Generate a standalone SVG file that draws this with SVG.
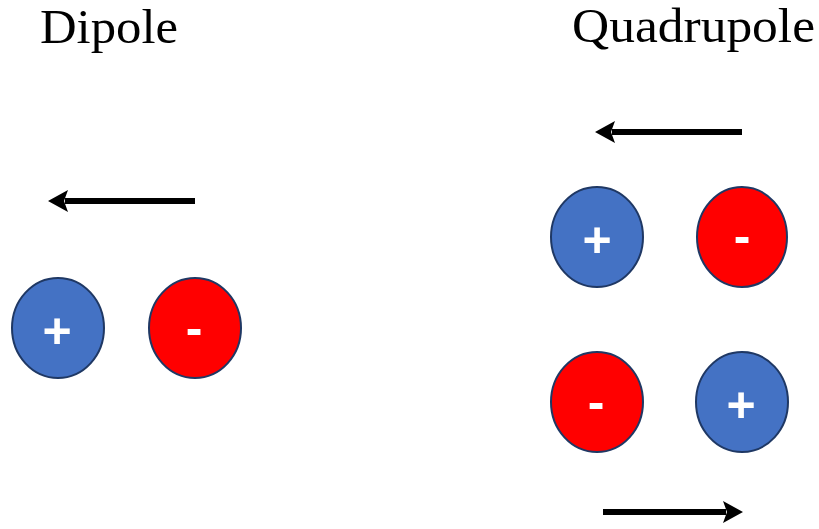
<svg xmlns="http://www.w3.org/2000/svg" width="819" height="529" viewBox="0 0 819 529">
<style>
.title{font-family:"Liberation Serif","Times New Roman",serif;font-size:48px;fill:#000}
.pos{fill:#4472C4;stroke:#1F3864;stroke-width:2}
.neg{fill:#FF0000;stroke:#1F3864;stroke-width:2}
.sign{font-family:"Liberation Sans",Arial,sans-serif;font-weight:bold;font-size:50px;fill:#fff;text-anchor:middle}
.arrow{stroke:#000;stroke-width:6;fill:none}
</style>
<defs>
<marker id="ah" markerWidth="20" markerHeight="22" refX="3" refY="11" orient="auto" markerUnits="userSpaceOnUse">
<path d="M0,0 L20,11 L0,22 L4,11 Z" fill="#000"/>
</marker>
</defs>
<rect width="819" height="529" fill="#fff"/>
<text id="dipole-title" class="title" x="40" y="43" textLength="138" lengthAdjust="spacingAndGlyphs">Dipole</text>
<text id="quadrupole-title" class="title" x="572" y="42" textLength="243" lengthAdjust="spacingAndGlyphs">Quadrupole</text>
<g id="connectors">
<line class="arrow" x1="195" y1="201" x2="65" y2="201" marker-end="url(#ah)"/>
<line class="arrow" x1="742" y1="132" x2="612" y2="132" marker-end="url(#ah)"/>
<line class="arrow" x1="603" y1="512" x2="726" y2="512" marker-end="url(#ah)"/>
</g>
<g id="dipole-pos"><ellipse class="pos" cx="58" cy="328" rx="46" ry="50"/><text class="sign" x="57" y="348">+</text></g>
<g id="dipole-neg"><ellipse class="neg" cx="195" cy="328" rx="46" ry="50"/><text class="sign" x="194" y="345">-</text></g>
<g id="quad-tl"><ellipse class="pos" cx="597" cy="237" rx="46" ry="50"/><text class="sign" x="597" y="257">+</text></g>
<g id="quad-tr"><ellipse class="neg" cx="742" cy="237" rx="45" ry="50"/><text class="sign" x="742" y="253">-</text></g>
<g id="quad-bl"><ellipse class="neg" cx="597" cy="402" rx="46" ry="50"/><text class="sign" x="596" y="419">-</text></g>
<g id="quad-br"><ellipse class="pos" cx="742" cy="402" rx="46" ry="50"/><text class="sign" x="741" y="422">+</text></g>
</svg>
